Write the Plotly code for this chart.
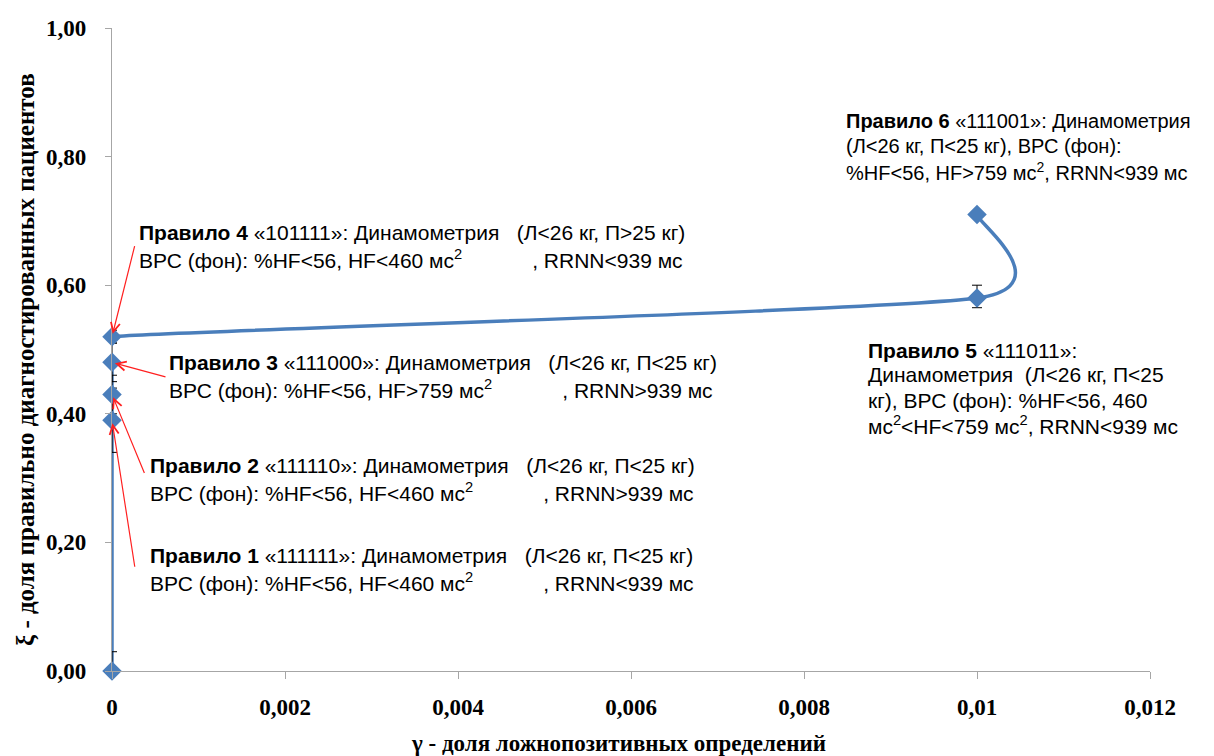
import plotly.graph_objects as go

# Rule points: false-positive share (x) vs. share of correctly diagnosed patients (y)
fp_share = [0, 0, 0, 0, 0, 0.01, 0.01]
tp_share = [0.00, 0.39, 0.43, 0.48, 0.52, 0.58, 0.71]
err_plus = [0.03, 0.05, 0.03, 0.03, 0.01, 0.02, 0.0]
err_minus = [0.0, 0.05, 0.03, 0.03, 0.01, 0.015, 0.0]

x_tickvals = [0, 0.002, 0.004, 0.006, 0.008, 0.01, 0.012]
x_ticktext = ["0", "0,002", "0,004", "0,006", "0,008", "0,01", "0,012"]
y_tickvals = [0.0, 0.2, 0.4, 0.6, 0.8, 1.0]
y_ticktext = ["0,00", "0,20", "0,40", "0,60", "0,80", "1,00"]

SP3 = "\u00a0" * 3
GAP = "\u00a0" * 12
rule_texts = {
    1: ["<b>Правило 1</b> «111111»: Динамометрия" + SP3 + "(Л<26 кг, П<25 кг)",
        "ВРС (фон): %HF<56, HF<460 мс<sup>2</sup>" + GAP + ", RRNN<939 мс"],
    2: ["<b>Правило 2</b> «111110»: Динамометрия" + SP3 + "(Л<26 кг, П<25 кг)",
        "ВРС (фон): %HF<56, HF<460 мс<sup>2</sup>" + GAP + ", RRNN>939 мс"],
    3: ["<b>Правило 3</b> «111000»: Динамометрия" + SP3 + "(Л<26 кг, П<25 кг)",
        "ВРС (фон): %HF<56, HF>759 мс<sup>2</sup>" + GAP + ", RRNN>939 мс"],
    4: ["<b>Правило 4</b> «101111»: Динамометрия" + SP3 + "(Л<26 кг, П>25 кг)",
        "ВРС (фон): %HF<56, HF<460 мс<sup>2</sup>" + GAP + ", RRNN<939 мс"],
    5: ["<b>Правило 5</b> «111011»:",
        "Динамометрия\u00a0\u00a0(Л<26 кг, П<25",
        "кг), ВРС (фон): %HF<56, 460",
        "мс<sup>2</sup><HF<759 мс<sup>2</sup>, RRNN<939 мс"],
    6: ["<b>Правило 6</b> «111001»: Динамометрия",
        "(Л<26 кг, П<25 кг), ВРС (фон):",
        "%HF<56, HF>759 мс<sup>2</sup>, RRNN<939 мс"],
}

# plot area geometry (pixels)
W, H = 1214, 756
L, R, T, B = 112, 64, 28, 85
PW, PH = W - L - R, H - T - B


def px(xp):
    return (xp - L) / PW


def py(yp):
    return (T + PH - yp) / PH


LINE_BLUE = "#4A7EBB"
SANS = "Liberation Sans, Arial, sans-serif"
SERIF = "Liberation Serif, Times New Roman, serif"
TICK_FONT = dict(family=SERIF, size=23, color="black", weight="bold")

# smoothed connecting line: cubic Bezier segments with Catmull-Rom style tangents
pts = list(zip(fp_share, tp_share))
k = 0.1
path = f"M {pts[0][0]},{pts[0][1]}"
for i in range(len(pts) - 1):
    p_prev = pts[max(i - 1, 0)]
    p0, p1 = pts[i], pts[i + 1]
    p_next = pts[min(i + 2, len(pts) - 1)]
    c1 = (p0[0] + k * (p1[0] - p_prev[0]), p0[1] + k * (p1[1] - p_prev[1]))
    c2 = (p1[0] - k * (p_next[0] - p0[0]), p1[1] - k * (p_next[1] - p0[1]))
    path += f" C {c1[0]},{c1[1]} {c2[0]},{c2[1]} {p1[0]},{p1[1]}"

fig = go.Figure()
fig.add_shape(type="path", path=path, xref="x", yref="y", layer="below",
              line=dict(color=LINE_BLUE, width=3.5))
fig.add_trace(go.Scatter(
    x=fp_share, y=tp_share,
    mode="markers",
    marker=dict(symbol="diamond", size=15, color=LINE_BLUE),
    error_y=dict(type="data", array=err_plus, arrayminus=err_minus,
                 color="black", thickness=1, width=5),
    cliponaxis=False,
    showlegend=False,
))

annotations = []
# text blocks: (rule, left px, first line center px, line spacing px, font size)
blocks = [
    (6, 844, 121, 25, 20),
    (4, 137, 232, 27, 21),
    (3, 167, 362, 27, 21),
    (2, 148, 465, 27, 21),
    (1, 148, 555, 27, 21),
    (5, 866, 350, 25, 21),
]
for rule, left, y0, dy, fs in blocks:
    for i, line in enumerate(rule_texts[rule]):
        annotations.append(dict(
            xref="paper", yref="paper", x=px(left), y=py(y0 + i * dy),
            xanchor="left", yanchor="middle", text=line, showarrow=False,
            font=dict(family=SANS, size=fs, color="black"),
        ))

# red leader arrows from rules 1-4 to their points (tail offsets in px)
arrow_offsets = {4: (23, -92), 3: (55, 15), 2: (33, 80), 1: (23, 148)}
for rule, (ax, ay) in arrow_offsets.items():
    annotations.append(dict(
        x=fp_share[rule], y=tp_share[rule], xref="x", yref="y",
        ax=ax, ay=ay, text="", showarrow=True,
        arrowhead=5, arrowsize=1.5, arrowwidth=1.2, arrowcolor="#FF2020",
        standoff=3,
    ))

# axis titles
annotations.append(dict(
    xref="paper", yref="paper", x=px(618), y=py(743),
    xanchor="center", yanchor="middle", showarrow=False,
    text="<b>γ - доля ложнопозитивных определений</b>",
    font=dict(family=SERIF, size=23, color="black"),
))
annotations.append(dict(
    xref="paper", yref="paper", x=px(25), y=py(360),
    xanchor="center", yanchor="middle", showarrow=False, textangle=-90,
    text="<b>ξ - доля правильно диагностированных пациентов</b>",
    font=dict(family=SERIF, size=25, color="black"),
))

fig.update_layout(
    width=W, height=H,
    margin=dict(l=L, r=R, t=T, b=B),
    paper_bgcolor="white", plot_bgcolor="white",
    annotations=annotations,
    xaxis=dict(
        range=[0, 0.012], tickvals=x_tickvals, ticktext=x_ticktext,
        showgrid=False, zeroline=False, showline=True, linecolor="#A6A6A6", linewidth=1.3,
        ticks="outside", ticklen=7, tickcolor="#A6A6A6", tickfont=TICK_FONT,
        ticklabelstandoff=8,
    ),
    yaxis=dict(
        range=[0, 1.0], tickvals=y_tickvals, ticktext=y_ticktext,
        showgrid=False, zeroline=False, showline=True, linecolor="#A6A6A6", linewidth=1.3,
        ticks="outside", ticklen=6, tickcolor="#A6A6A6", tickfont=TICK_FONT,
        ticklabelstandoff=14,
    ),
)

fig.write_html("out.html")
